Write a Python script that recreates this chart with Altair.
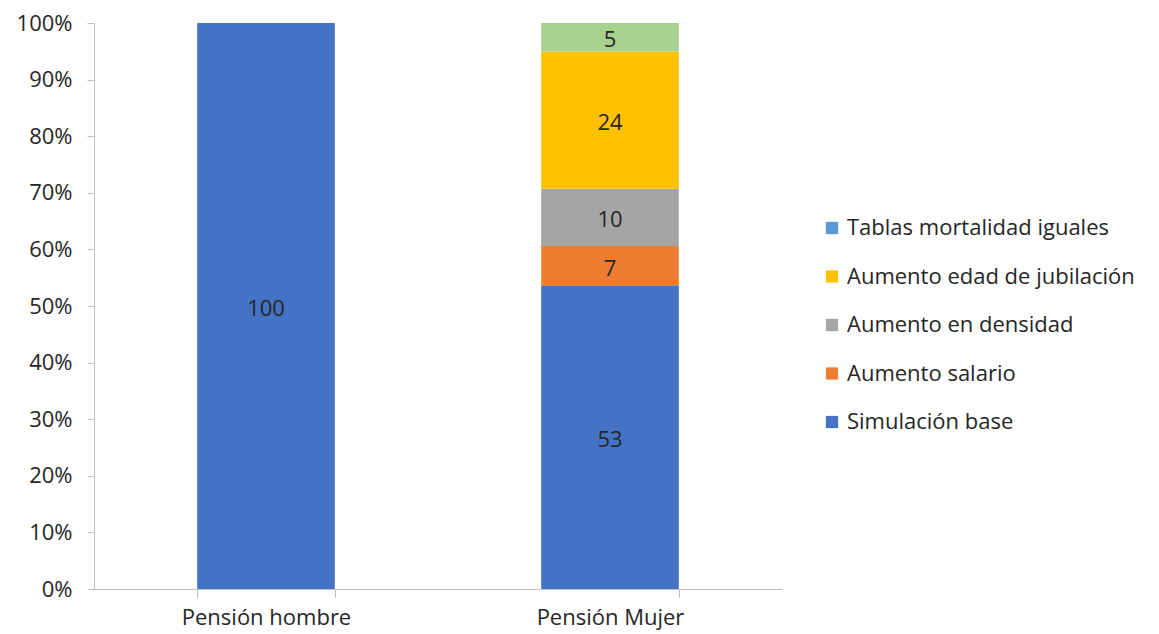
import altair as alt
import pandas as pd

categorias = ["Pensión hombre", "Pensión Mujer"]
series = ["Simulación base", "Aumento salario", " Aumento en densidad",
          " Aumento edad de jubilación", "Tablas mortalidad iguales"]
valores_hombre = [100, 0, 0, 0, 0]
valores_mujer = [53, 7, 10, 24, 5]
colores_leyenda = ["#4472C4", "#ED7D31", "#A5A5A5", "#FFC000", "#5B9BD5"]
color_tablas_barra = "#A9D18E"

rows = []
for cat, vals in zip(categorias, [valores_hombre, valores_mujer]):
    for i, (s, v) in enumerate(zip(series, vals)):
        if v > 0:
            rows.append({"cat": cat, "serie": s, "valor": v, "orden": i})
df = pd.DataFrame(rows)

FONT = "Open Sans"
FS = 22
legend_order = list(reversed(series))
legend_colors = list(reversed(colores_leyenda))

base = alt.Chart(df)

bars = base.mark_bar().encode(
    x=alt.X("cat:N", sort=categorias, title=None,
            scale=alt.Scale(paddingInner=0.6, paddingOuter=0.3),
            axis=alt.Axis(labelAngle=0, tickBand="extent", tickSize=8,
                          labelPadding=10, labelFontSize=FS, labelFont=FONT,
                          labelColor="#262626", domainColor="#BFBFBF",
                          tickColor="#BFBFBF", grid=False)),
    y=alt.Y("valor:Q", stack="normalize", title=None,
            scale=alt.Scale(domain=[0, 1]),
            axis=alt.Axis(format="%", values=[i / 10 for i in range(11)],
                          tickSize=7, labelPadding=15, labelFontSize=FS,
                          labelFont=FONT, labelColor="#262626",
                          domainColor="#BFBFBF", tickColor="#BFBFBF",
                          grid=False)),
    order=alt.Order("orden:Q", sort="ascending"),
    color=alt.condition(
        alt.datum.serie == "Tablas mortalidad iguales",
        alt.value(color_tablas_barra),
        alt.Color("serie:N", title=None,
                  scale=alt.Scale(domain=legend_order, range=legend_colors),
                  legend=alt.Legend(orient="none", legendX=727, legendY=194,
                                    symbolType="square", symbolSize=150,
                                    symbolStrokeWidth=0,
                                    labelFontSize=FS, labelFont=FONT,
                                    labelColor="#262626", rowPadding=26.5,
                                    labelOffset=4, labelLimit=400)),
    ),
)

labels = base.transform_joinaggregate(
    total="sum(valor)", groupby=["cat"]
).transform_window(
    cum="sum(valor)", sort=[alt.SortField("orden")], groupby=["cat"]
).transform_calculate(
    mid="(datum.cum - datum.valor / 2) / datum.total"
).mark_text(fontSize=FS, font=FONT, color="#262626", dy=3).encode(
    x=alt.X("cat:N", sort=categorias),
    y=alt.Y("mid:Q"),
    text=alt.Text("valor:Q"),
)

chart = alt.layer(bars, labels).properties(
    width=688, height=566,
    background="white",
    autosize=alt.AutoSizeParams(type="none"),
    padding={"left": 94, "top": 23, "right": 377, "bottom": 45},
).configure_view(stroke=None)

chart.save("out.html", embed_options={"renderer": "svg", "actions": False})
